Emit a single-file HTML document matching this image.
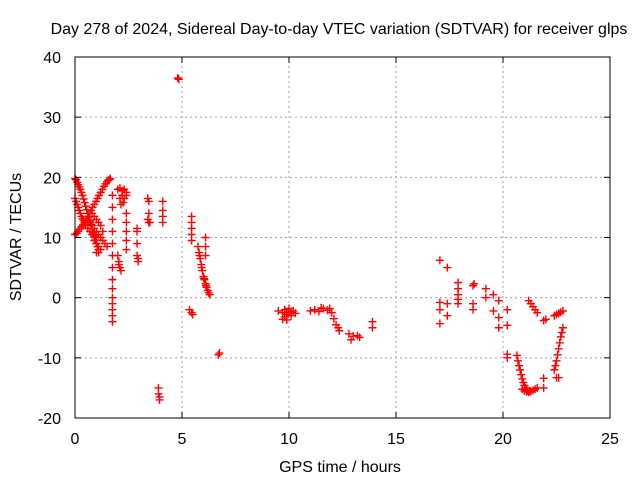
<!DOCTYPE html>
<html><head><meta charset="utf-8"><style>
body{margin:0;background:#fff;}
svg{display:block;font-family:"Liberation Sans",sans-serif;}
</style></head><body>
<svg id="chart" width="640" height="480" viewBox="0 0 640 480">
<rect width="640" height="480" fill="#fff"/>
<text x="339" y="34" font-size="16" text-anchor="middle">Day 278 of 2024, Sidereal Day-to-day VTEC variation (SDTVAR) for receiver glps</text>
<g id="grid"></g>
<g id="marks"></g>
<rect x="75" y="57" width="535" height="361" fill="none" stroke="#000" stroke-width="1"/>
<g id="ticks"></g>
<text x="340" y="472" font-size="16" text-anchor="middle">GPS time / hours</text>
<text transform="translate(21,237) rotate(-90)" font-size="16" text-anchor="middle">SDTVAR / TECUs</text>
</svg>
<script>
const xTicks=[0,5,10,15,20,25];
const yTicks=[-20,-10,0,10,20,30,40];
const lineAT=[0,0.05,0.1,0.15,0.2,0.25,0.3,0.35,0.4,0.45,0.5,0.55,0.6,0.65,0.7,0.75,0.8,0.85,0.9,0.95,1.0,1.05,1.1];
const lineAV=[19.8,19.6,19.2,18.8,18.4,18,17.5,17,16.4,15.8,15.2,14.6,14,13.4,12.8,12.2,11.5,10.8,10.2,9.6,9,8.5,8];
const lineBT=[0,0.05,0.1,0.15,0.2,0.25,0.3,0.35,0.4,0.45,0.5,0.6,0.7,0.8,0.9,1.0];
const lineBV=[16.5,16,15.5,15,14.5,14,13.5,13.1,12.8,12.4,12,11.5,11,10.5,10.2,10];
const lineCT=[0,0.08,0.15,0.22,0.3,0.38,0.45,0.52,0.6,0.68,0.75,0.82,0.9,0.98,1.05,1.12,1.2,1.28,1.35,1.42,1.5,1.55,1.6,1.65];
const lineCV=[10.5,10.7,11,11.4,11.8,12.1,12.5,13,13.5,14,14.5,15,15.5,16,16.5,17,17.5,18,18.5,18.9,19.3,19.5,19.6,19.8];
const blobT=[0.6,0.7,0.8,0.9,1.0,1.1,1.2,1.3,1.4,1.5,0.8,0.9,1.0,1.1,1.2,1.3,0.9,1.0,1.1,1.2,1.0,1.1];
const blobV=[13,12.5,12,11.5,11,10.5,10,9.5,9,8.5,14,13.5,13,12.5,12,11,9.5,9,8.5,8,7.5,7.5];
const col1T=[1.75,1.75,1.75,1.75,1.75,1.75,1.75,1.75,1.75,1.75,1.75,1.75,1.75,1.75];
const col1V=[17,15,13,11,9,7,5,3,1.5,0,-1,-2,-3,-4];
const blobBT=[2.0,2.1,2.2,2.3,2.4,2.1,2.2,2.3,2.4,2.15,2.25];
const blobBV=[18,18.2,17.8,18,17.5,16.5,17,16.5,17,15.5,15.8];
const col2T=[2.4,2.4,2.4,2.4,2.4];
const col2V=[14,12.5,11,9.5,8];
const smallT=[2.0,2.05,2.1,2.15,2.05];
const smallV=[7,6,5,4.5,5.5];
const c29T=[2.9,2.9,2.9,2.9,2.95,2.95];
const c29V=[11.5,11,9,7,6.5,6];
const c34T=[3.4,3.45,3.4,3.45,3.5,3.45];
const c34V=[16.5,16,13,12.5,12.5,14];
const c41T=[4.1,4.1,4.1,4.1];
const c41V=[16,14.5,13.5,12.5];
const c39T=[3.9,3.9,3.95,3.95];
const c39V=[-15,-16,-17,-16.5];
const peakT=[4.8,4.85];
const peakV=[36.5,36.3];
const c54T=[5.45,5.45,5.45,5.45,5.45,5.35,5.45,5.5];
const c54V=[13.5,12.5,11.5,10.5,9.5,-2,-2.5,-2.8];
const diagT=[5.75,5.8,5.85,5.9,5.95,6.0,6.05,6.1,6.15,6.2,6.25,6.3,5.82,5.92,6.02,6.12];
const diagV=[8.5,7.5,6.5,5.5,4.5,3.5,3,2.3,1.7,1.2,0.8,0.5,7,5,3.2,2];
const c61T=[6.1,6.1,6.1,6.7,6.75];
const c61V=[10,8.5,7,-9.5,-9.2];
const c10T=[9.5,9.7,9.8,9.9,10.0,10.1,10.2,10.3,9.7,9.9,10.1,9.8,10.0];
const c10V=[-2.2,-2.5,-3.2,-2.8,-2.3,-2.5,-2.2,-2.6,-3.6,-3.7,-3,-2,-1.8];
const c11T=[11.0,11.2,11.4,11.6,11.8,12.0,12.1,12.2,12.3,12.35,11.5,11.9];
const c11V=[-2.2,-2,-2.3,-1.8,-2.1,-2.5,-3.5,-4.5,-5,-5.5,-1.7,-1.8];
const c13T=[12.8,12.9,13.0,13.2,13.3,13.9,13.9];
const c13V=[-6,-7,-6.4,-6.3,-6.6,-4,-5];
const c17T=[17.05,17.4,17.05,17.05,17.05,17.4,17.4,17.9,17.9,17.9,17.9,17.9];
const c17V=[6.2,5,-0.8,-2,-4.3,-1,-3,2.5,1.5,0.5,-0.3,-1];
const c18T=[18.6,18.65,18.6,18.6,19.2,19.2,19.55,19.8,19.55,19.8,19.8,20.2,20.2,20.2,20.2];
const c18V=[2,2.3,-1,-2,1.5,0,0.5,-0.5,-2.2,-3.3,-5,-2,-4.6,-9.4,-10];
const curveT=[20.65,20.7,20.75,20.8,20.85,20.9,20.95,21.0,21.05,21.1,21.15,21.2,21.25];
const curveV=[-9.6,-10.5,-11.3,-12,-12.8,-13.5,-14.1,-14.6,-15,-15.3,-15.5,-15.6,-15.5];
const bottomT=[20.9,21.0,21.1,21.2,21.3,21.4,21.5,21.6,21.9,21.9,22.5,22.6];
const bottomV=[-15.2,-15.5,-15.6,-15.7,-15.6,-15.4,-15.2,-15,-13.4,-15,-13.3,-13.3];
const diag2T=[21.2,21.3,21.4,21.5,21.6,21.9,22.0];
const diag2V=[-0.5,-1,-1.5,-2,-2.5,-3.8,-3.6];
const loopT=[22.4,22.5,22.6,22.7,22.8,22.8,22.75,22.7,22.65,22.6,22.55,22.5,22.45,22.4];
const loopV=[-3,-2.8,-2.6,-2.4,-2.2,-5,-5.8,-6.5,-7.5,-8.5,-9.5,-10.5,-11.3,-12];
const groups=[[lineAT,lineAV],[lineBT,lineBV],[lineCT,lineCV],[blobT,blobV],[col1T,col1V],[blobBT,blobBV],[col2T,col2V],[smallT,smallV],[c29T,c29V],[c34T,c34V],[c41T,c41V],[c39T,c39V],[peakT,peakV],[c54T,c54V],[diagT,diagV],[c61T,c61V],[c10T,c10V],[c11T,c11V],[c13T,c13V],[c17T,c17V],[c18T,c18V],[curveT,curveV],[bottomT,bottomV],[diag2T,diag2V],[loopT,loopV]];
const NS='http://www.w3.org/2000/svg';
const X0=75,X1=610,Y0=418,Y1=57;
const sx=t=>X0+t/25*(X1-X0);
const sy=v=>Y0-(v+20)/60*(Y0-Y1);
const grid=document.getElementById('grid'),ticks=document.getElementById('ticks'),marks=document.getElementById('marks');
function mk(tag,attrs,parent){const e=document.createElementNS(NS,tag);for(const k in attrs)e.setAttribute(k,attrs[k]);parent.appendChild(e);return e;}
xTicks.forEach(t=>{const x=sx(t);
 if(t>0&&t<25){const g=mk('line',{x1:x,x2:x,y1:Y0,y2:Y1,stroke:'#a0a0a0','stroke-dasharray':'2,3'},grid);
 
 }
 mk('line',{x1:x,x2:x,y1:Y0,y2:Y0-6,stroke:'#000'},ticks);mk('line',{x1:x,x2:x,y1:Y1,y2:Y1+6,stroke:'#000'},ticks);
 const l=mk('text',{x:x,y:444,'font-size':16,'text-anchor':'middle'},ticks);l.textContent=t;
 
 
});
yTicks.forEach(v=>{const y=sy(v);
 if(v>-20&&v<40){const g=mk('line',{x1:X0,x2:X1,y1:y,y2:y,stroke:'#a0a0a0','stroke-dasharray':'2,3'},grid);
 
 }
 mk('line',{x1:X0,x2:X0+6,y1:y,y2:y,stroke:'#000'},ticks);mk('line',{x1:X1,x2:X1-6,y1:y,y2:y,stroke:'#000'},ticks);
 const l=mk('text',{x:61,y:y+6,'font-size':16,'text-anchor':'end'},ticks);l.textContent=v;
 
 
});
groups.forEach(([ts,vs])=>{ts.forEach((t,i)=>{const x=sx(t),y=sy(vs[i]);
 const p=mk('path',{d:`M${x-4},${y}H${x+4}M${x},${y-4}V${y+4}`,stroke:'#f00','stroke-width':1.4,fill:'none'},marks);
 
 
});});
</script>
</body></html>
